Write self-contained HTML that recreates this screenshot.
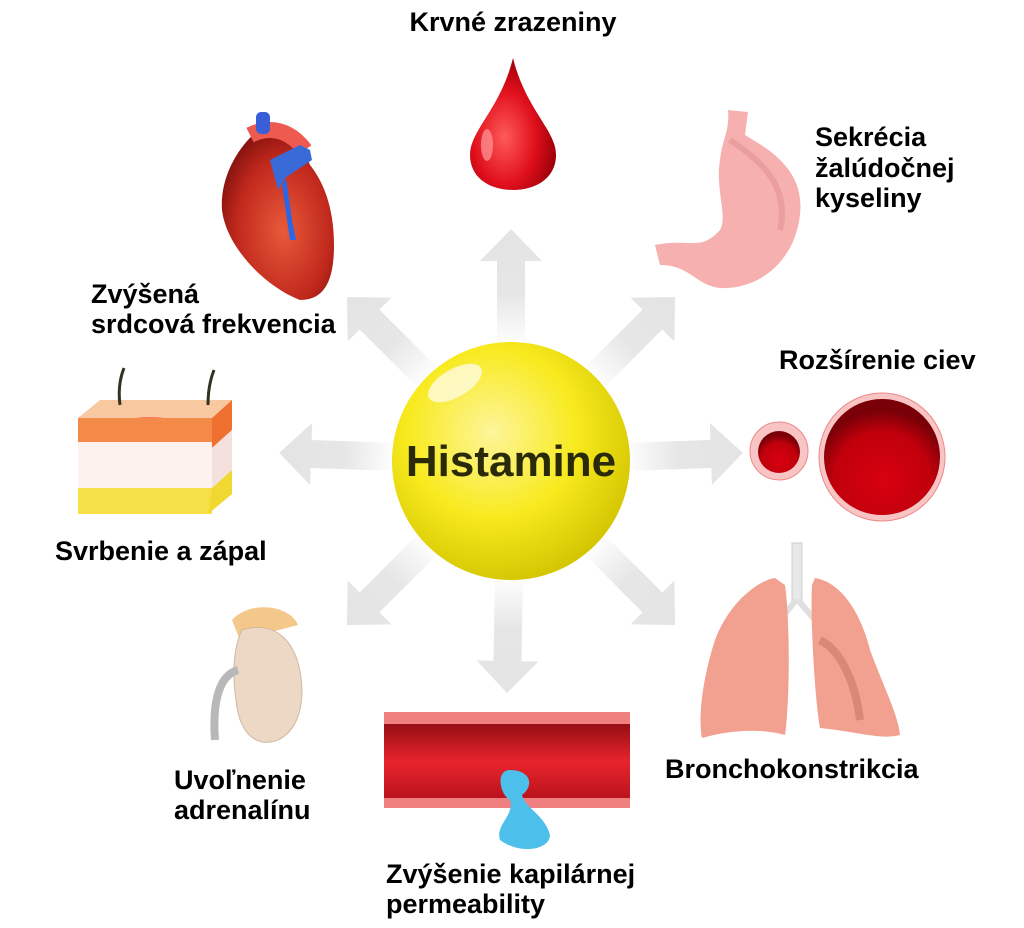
<!DOCTYPE html>
<html><head><meta charset="utf-8"><style>
html,body{margin:0;padding:0;background:#fff;}
svg{display:block;}
text{font-family:"Liberation Sans",sans-serif;font-weight:bold;fill:#000;font-size:27px;}
</style></head><body>
<svg width="1024" height="928" viewBox="0 0 1024 928">
<defs>
<linearGradient id="ag" x1="0" y1="0" x2="1" y2="0">
<stop offset="0" stop-color="#e6e6e6" stop-opacity="0"/>
<stop offset="0.45" stop-color="#e6e6e6"/>
<stop offset="1" stop-color="#e4e4e4"/>
</linearGradient>
<g id="arr"><polygon points="115,-14 200,-14 200,-31 232,0 200,31 200,14 115,14" fill="url(#ag)"/></g>
<radialGradient id="ball" cx="0.42" cy="0.38" r="0.65">
<stop offset="0" stop-color="#fdf59a"/><stop offset="0.55" stop-color="#f8ea1e"/><stop offset="1" stop-color="#d2c400"/>
</radialGradient>
<radialGradient id="drop" cx="0.4" cy="0.6" r="0.6">
<stop offset="0" stop-color="#ff5a5a"/><stop offset="0.6" stop-color="#e0101c"/><stop offset="1" stop-color="#a0000a"/>
</radialGradient>
<radialGradient id="vessel" cx="0.5" cy="0.7" r="0.6">
<stop offset="0" stop-color="#d80010"/><stop offset="0.7" stop-color="#c0000c"/><stop offset="1" stop-color="#7a0008"/>
</radialGradient>
<linearGradient id="cap" x1="0" y1="0" x2="0" y2="1">
<stop offset="0" stop-color="#8a0a10"/><stop offset="0.5" stop-color="#e8242c"/><stop offset="1" stop-color="#b0101a"/>
</linearGradient>
<radialGradient id="heart" cx="0.55" cy="0.6" r="0.6">
<stop offset="0" stop-color="#e85a3a"/><stop offset="0.7" stop-color="#c0281c"/><stop offset="1" stop-color="#8a1410"/>
</radialGradient>
</defs>

<g transform="translate(511,461)">
<use href="#arr" transform="rotate(-90)"/>
<use href="#arr" transform="rotate(-45)"/>
<use href="#arr" transform="rotate(-2)"/>
<use href="#arr" transform="rotate(45)"/>
<use href="#arr" transform="rotate(91)"/>
<use href="#arr" transform="rotate(135)"/>
<use href="#arr" transform="rotate(182)"/>
<use href="#arr" transform="rotate(225)"/>
</g>

<circle cx="511" cy="461" r="119" fill="url(#ball)"/>
<ellipse cx="455" cy="383" rx="30" ry="14" fill="#fffbe0" opacity="0.8" transform="rotate(-30 455 383)"/>
<text x="511" y="476" text-anchor="middle" style="font-size:44px;fill:#2a2a08">Histamine</text>

<path d="M513,58 C500,110 470,130 470,155 C470,178 490,190 513,190 C536,190 556,178 556,155 C556,130 526,110 513,58Z" fill="url(#drop)"/>
<ellipse cx="487" cy="145" rx="6" ry="16" fill="#ff9a9a" opacity="0.7"/>

<path d="M258,130 C235,150 220,180 222,210 C226,245 262,285 300,300 C325,300 334,280 334,245 C334,205 322,180 310,165 L300,140 C290,125 270,125 258,130Z" fill="url(#heart)"/>
<path d="M250,135 C270,125 290,130 305,150" stroke="#ee5a50" stroke-width="16" fill="none"/>
<rect x="256" y="112" width="14" height="22" rx="5" fill="#3a5ed8"/>
<path d="M270,160 L300,145 L310,150 L312,160 L285,178 L278,190 Z" fill="#3a6ad8"/>
<path d="M286,178 L292,220 L296,240 L290,240 L282,185Z" fill="#2a66e8"/>

<path d="M728,110 L748,112 L745,135 C770,150 805,170 800,215 C795,260 760,290 720,288 C695,285 690,265 660,265 L655,245 C690,238 700,252 720,230 C728,215 715,190 720,160 C722,140 730,130 728,110Z" fill="#f6b0b0"/>
<path d="M730,140 C760,160 790,185 780,230" stroke="#e08c8c" stroke-width="6" fill="none" opacity="0.5"/>

<circle cx="779" cy="451" r="29" fill="#f9c4c4" stroke="#e88" stroke-width="1"/>
<circle cx="779" cy="452" r="21" fill="url(#vessel)"/>
<ellipse cx="882" cy="457" rx="63" ry="64" fill="#f9c4c4" stroke="#e88" stroke-width="1"/>
<ellipse cx="882" cy="457" rx="58" ry="58" fill="url(#vessel)"/>

<rect x="792" y="543" width="10" height="60" fill="#e8e8e8" stroke="#ccc"/>
<path d="M796,600 L780,620 M798,600 L815,620" stroke="#e0dede" stroke-width="6"/>
<path d="M775,578 C760,580 730,600 715,640 C702,680 698,720 702,738 C730,730 760,728 785,735 C790,700 790,620 785,585 Z" fill="#f2a090"/>
<path d="M815,578 C840,582 860,610 870,650 C885,690 898,715 900,735 C880,740 860,732 820,728 C815,700 810,620 812,585Z" fill="#f2a090"/>
<path d="M820,640 C840,650 855,680 860,720" stroke="#c07060" stroke-width="8" fill="none" opacity="0.5"/>

<polygon points="78,418 100,400 232,400 232,418" fill="#f8c8a0"/>
<ellipse cx="150" cy="425" rx="30" ry="8" fill="#ff3a3a" opacity="0.6"/>
<rect x="78" y="418" width="134" height="27" fill="#f48a48"/>
<polygon points="212,418 232,400 232,430 212,448" fill="#f07030"/>
<rect x="78" y="442" width="134" height="46" fill="#fdf2ee"/>
<polygon points="212,448 232,430 232,470 212,488" fill="#f4e0dc"/>
<rect x="78" y="488" width="134" height="26" fill="#f5e048"/>
<polygon points="212,488 232,470 232,494 208,514" fill="#f0d830"/>
<path d="M120,405 C118,390 120,378 124,368 M208,405 C208,390 210,380 214,370" stroke="#332" stroke-width="3" fill="none"/>

<path d="M232,620 C250,600 290,605 298,625 L240,640Z" fill="#f4c88a"/>
<path d="M242,630 C275,620 300,640 302,690 C302,730 280,745 262,742 C245,738 238,720 236,700 C233,680 232,650 242,630Z" fill="#ecd8c4" stroke="#d0b8a0"/>
<path d="M238,670 C220,675 212,700 215,740" stroke="#b8b8b8" stroke-width="8" fill="none"/>

<rect x="384" y="718" width="246" height="88" rx="6" fill="url(#cap)"/>
<path d="M384,712 L630,712 L630,724 L384,724Z" fill="#f08080"/>
<path d="M384,798 L630,798 L630,808 L384,808Z" fill="#f08080"/>
<path d="M510,770 C495,770 500,795 510,800 C515,815 495,825 500,840 C520,855 550,850 550,835 C545,815 525,808 522,795 C535,785 530,770 510,770Z" fill="#4cc0ea"/>

<text x="513" y="31" text-anchor="middle">Krvné zrazeniny</text>
<text x="815" y="146">Sekrécia</text>
<text x="815" y="177">žalúdočnej</text>
<text x="815" y="207">kyseliny</text>
<text x="779" y="369">Rozšírenie ciev</text>
<text x="91" y="303">Zvýšená</text>
<text x="91" y="333">srdcová frekvencia</text>
<text x="55" y="560">Svrbenie a zápal</text>
<text x="174" y="789">Uvoľnenie</text>
<text x="174" y="819">adrenalínu</text>
<text x="386" y="883">Zvýšenie kapilárnej</text>
<text x="386" y="913">permeability</text>
<text x="665" y="778">Bronchokonstrikcia</text>
</svg>
</body></html>
